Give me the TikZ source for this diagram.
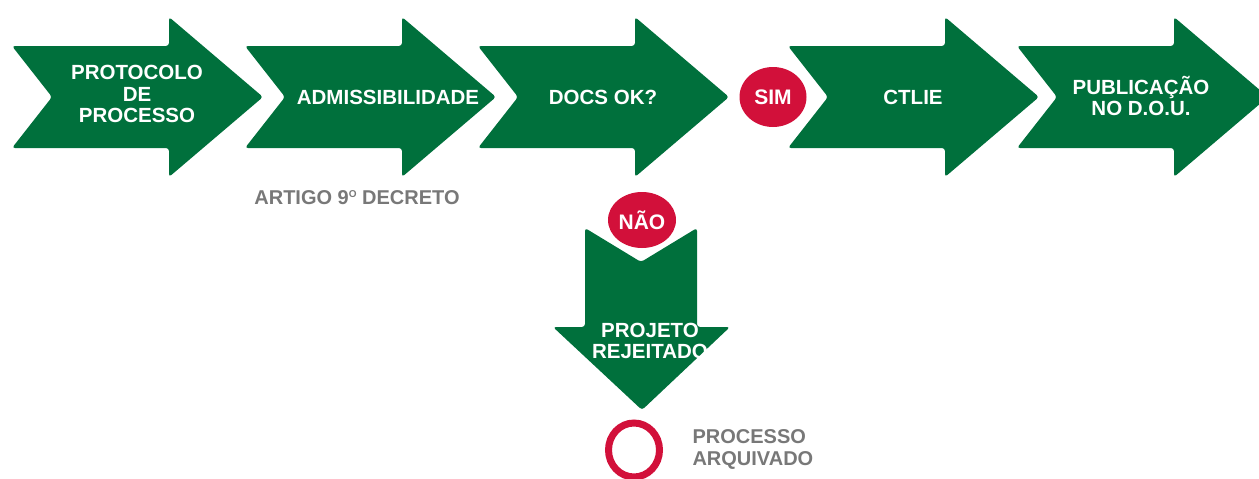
\documentclass[tikz,border=0pt]{standalone}
\usepackage{fontspec}
\setmainfont{Liberation Sans}
\usetikzlibrary{positioning}
\usetikzlibrary{shapes.geometric}
\definecolor{fluxgreen}{RGB}{0,112,60}
\definecolor{fluxred}{RGB}{210,16,58}
\definecolor{fluxgray}{RGB}{120,120,120}

\begin{document}
\begin{tikzpicture}[x=1pt,y=-1pt,
	flow arrow/.pic={\fill[fluxgreen,rounded corners=3pt] (0,-51) -- (157,-51) -- (157,-80) -- (251,0) -- (157,80) -- (157,51) -- (0,51) -- (40,0) -- cycle;},
	main node/.style={text=white,font=\fontsize{20.5}{21.5}\selectfont\bfseries,align=center},
	answer node/.style={ellipse,fill=fluxred,text=white,inner sep=0pt,minimum width=67pt,minimum height=60pt,font=\fontsize{21}{22}\selectfont\bfseries},
	note node/.style={text=fluxgray,font=\fontsize{20}{22}\selectfont\bfseries,align=left}]
	
	\useasboundingbox (0,0) rectangle (1259,479);
	
	\path (12,97) pic {flow arrow} (245,97) pic {flow arrow} (478,97) pic {flow arrow}
	(788,97) pic {flow arrow} (1017,97) pic {flow arrow};
	\fill[fluxgreen,rounded corners=3pt] (585,228) -- (641,262) -- (697,228) -- (697,327) -- (730,327)
	-- (642,410) -- (553,327) -- (585,327) -- cycle;
	
	\node[main node] (prot) at (137,94) {PROTOCOLO\\DE\\PROCESSO};
	\node[main node] (adm) at (388,97) {ADMISSIBILIDADE};
	\node[main node] (docs) at (603,97) {DOCS OK?};
	\node[answer node] (sim) at (773,97) {SIM};
	\node[main node] (ctlie) at (913,97) {CTLIE};
	\node[main node] (pub) at (1141,96) {PUBLICAÇÃO\\NO D.O.U.};
	\node[note node] (art) at (357,198) {ARTIGO 9\raisebox{7pt}{\fontsize{10}{10}\selectfont O} DECRETO};
	\node[answer node,minimum width=68pt,minimum height=56pt] (nao) at (642,220) {NÃO};
	\node[main node] (proj) at (650,341) {PROJETO\\REJEITADO};
	\node[draw=fluxred,line width=7pt,ellipse,minimum width=51pt,minimum height=54pt] (arq) at (634,450) {};
	\node[note node,anchor=west] (arqtxt) at (689,449) {PROCESSO\\ARQUIVADO};
\end{tikzpicture}
\end{document}
